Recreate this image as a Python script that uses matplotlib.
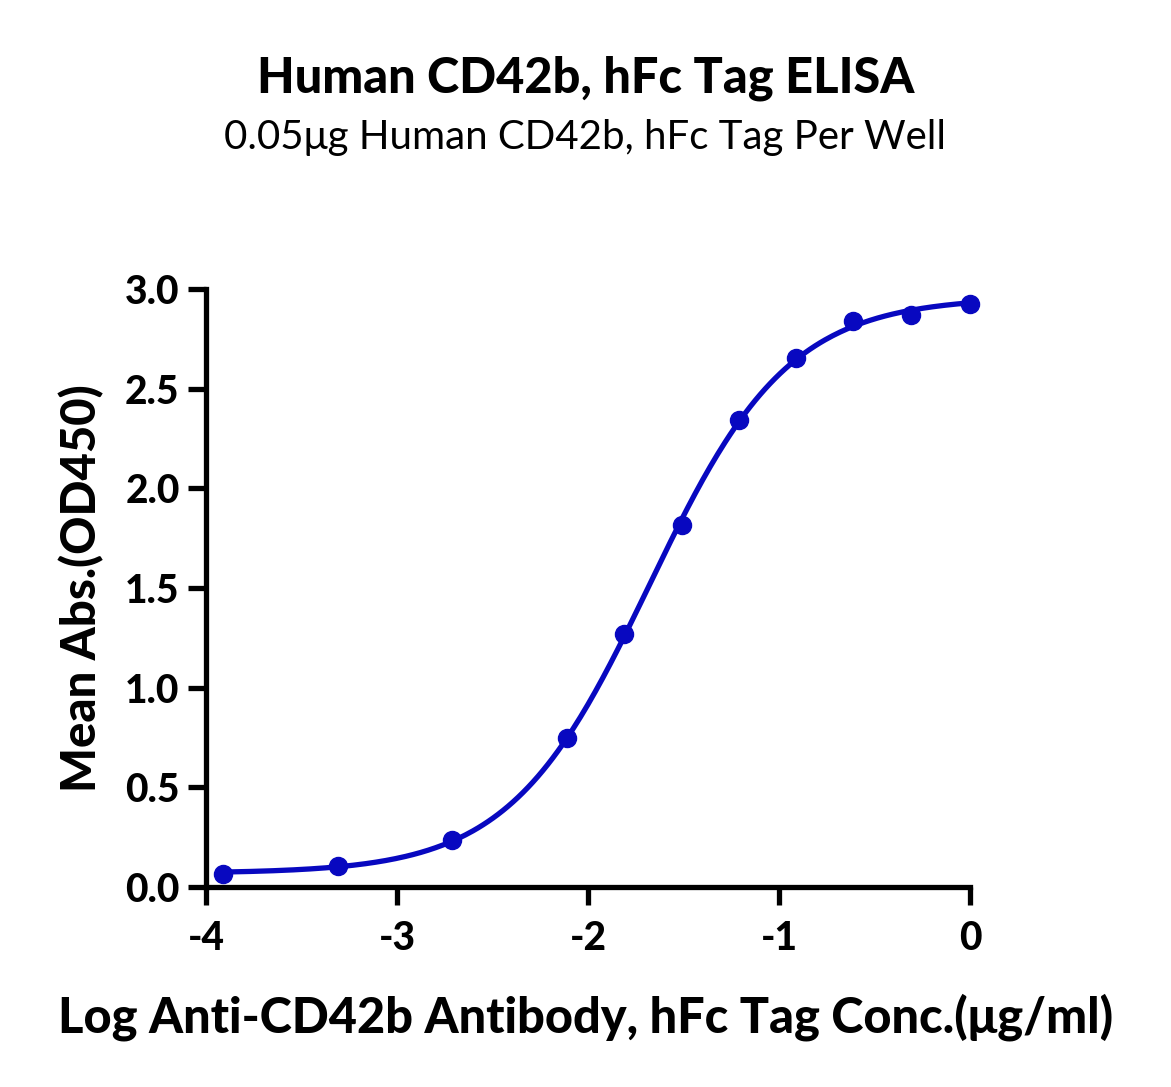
import numpy as np
import matplotlib.pyplot as plt

# --- data ---
log_conc = [-3.91, -3.31, -2.71, -2.11, -1.81, -1.51, -1.21, -0.91, -0.61, -0.31, 0.0]
mean_abs = [0.065, 0.105, 0.236, 0.748, 1.27, 1.816, 2.343, 2.654, 2.84, 2.87, 2.925]

title = "Human CD42b, hFc Tag ELISA"
subtitle = "0.05μg Human CD42b, hFc Tag Per Well"
x_label = "Log Anti-CD42b Antibody, hFc Tag Conc.(μg/ml)"
y_label = "Mean Abs.(OD450)"
x_ticks = [-4, -3, -2, -1, 0]
y_ticks = [0.0, 0.5, 1.0, 1.5, 2.0, 2.5, 3.0]

BLUE = '#0808C0'
FONT = ['Lato', 'DejaVu Sans']
plt.rcParams['font.family'] = FONT


def four_pl(x, p):
    bottom, top, logec50, hill = p
    return bottom + (top - bottom) / (1 + 10 ** ((logec50 - x) * hill))


def fit_four_pl(x, y):
    """Simple Levenberg-Marquardt fit of a 4PL curve."""
    p = np.array([min(y), max(y), np.median(x), 1.0])
    lam = 1e-3
    for _ in range(500):
        r = y - four_pl(x, p)
        J = np.zeros((len(x), 4))
        for i in range(4):
            dp = np.zeros(4)
            dp[i] = 1e-6
            J[:, i] = (four_pl(x, p + dp) - four_pl(x, p)) / 1e-6
        A = J.T @ J
        step = np.linalg.solve(A + lam * np.diag(np.diag(A)), J.T @ r)
        p_new = p + step
        if np.sum((y - four_pl(x, p_new)) ** 2) < np.sum(r ** 2):
            p = p_new
            lam *= 0.5
        else:
            lam *= 5
    return p


x = np.array(log_conc)
y = np.array(mean_abs)
params = fit_four_pl(x, y)

fig = plt.figure(figsize=(11.71, 10.87), dpi=100)
ax = fig.add_axes([206 / 1171, 1 - 887 / 1087, (970 - 206) / 1171, (887 - 289) / 1087])

x_fit = np.linspace(x.min(), x.max(), 300)
ax.plot(x_fit, four_pl(x_fit, params), color=BLUE, linewidth=3.8, clip_on=False, zorder=3)
ax.plot(x, y, 'o', color=BLUE, markersize=13, clip_on=False, zorder=4)

ax.set_xlim(-4, 0)
ax.set_ylim(0, 3)
ax.set_xticks(x_ticks)
ax.set_yticks(y_ticks)

for side in ['top', 'right']:
    ax.spines[side].set_visible(False)
for side in ['left', 'bottom']:
    ax.spines[side].set_linewidth(3.8)
    ax.spines[side].set_capstyle('projecting')
ax.tick_params(axis='both', direction='out', length=13, width=3.8)
ax.tick_params(axis='y', pad=6)
ax.tick_params(axis='x', pad=11)
ax.set_xticklabels([str(t) for t in x_ticks], fontweight='black', fontsize=28)
ax.set_yticklabels([f"{t:.1f}" for t in y_ticks], fontweight='black', fontsize=28)

fig.text(0.5, 1 - 78 / 1087, title, ha='center', va='center',
         fontsize=35, fontweight='black')
fig.text(0.5, 1 - 138 / 1087, subtitle, ha='center', va='center',
         fontsize=29)
fig.text(0.5, 1 - 1017 / 1087, x_label, ha='center', va='center',
         fontsize=35, fontweight='black')
fig.text(82 / 1171, 1 - 588 / 1087, y_label, ha='center', va='center', rotation=90,
         fontsize=34, fontweight='black')

fig.savefig('out.png', dpi=100)
